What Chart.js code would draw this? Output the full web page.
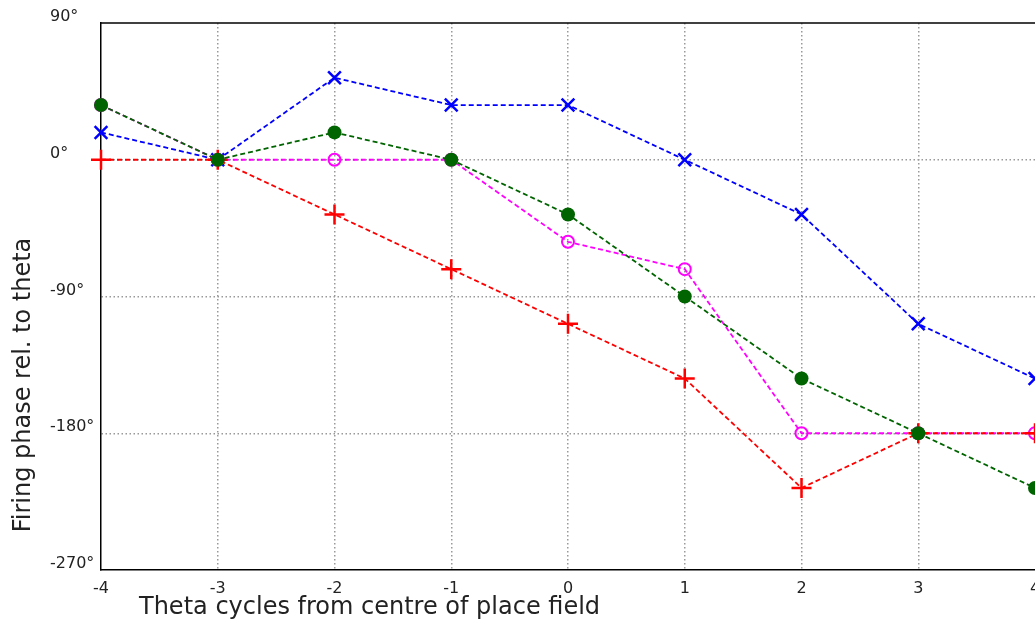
<!DOCTYPE html>
<html>
<head>
    <title>Firing phase vs theta cycles</title>
    <script src="https://cdn.jsdelivr.net/npm/chart.js"></script>
    <style>
        body { margin: 0; background: #fff; }
        .wrap { width: 1035px; height: 624px; position: relative; }
    </style>
</head>
<body>
    <div class="wrap"><canvas id="phase"></canvas></div>
    <script>
        // data (degrees)
        const cycles = [-4, -3, -2, -1, 0, 1, 2, 3, 4];
        const blueX = [18, 0, 54, 36, 36, 0, -36, -108, -144];
        const greenDot = [36, 0, 18, 0, -36, -90, -144, -180, -216];
        const magentaRing = [36, 0, 0, 0, -54, -72, -180, -180, -180];
        const redPlus = [0, 0, -36, -72, -108, -144, -216, -180, -180];
        const yTicks = [90, 0, -90, -180, -270];

        const pts = vals => vals.map((v, i) => ({ x: cycles[i], y: v }));

        // frame on top edge + axis titles placed where the original has them
        const frame = {
            id: 'frame',
            afterDraw(chart) {
                const { ctx, chartArea: a } = chart;
                ctx.save();
                ctx.strokeStyle = '#000';
                ctx.lineWidth = 1.5;
                ctx.beginPath();
                ctx.moveTo(a.left, a.top);
                ctx.lineTo(a.right, a.top);
                ctx.stroke();
                ctx.fillStyle = '#222';
                ctx.font = '24px "DejaVu Sans"';
                ctx.textBaseline = 'middle';
                ctx.textAlign = 'left';
                ctx.fillText('Theta cycles from centre of place field', 139, 608);
                ctx.translate(24, 385);
                ctx.rotate(-Math.PI / 2);
                ctx.textAlign = 'center';
                ctx.fillText('Firing phase rel. to theta', 0, 0);
                ctx.restore();
            }
        };

        const dash = [5, 3];
        new Chart(document.getElementById('phase'), {
            type: 'scatter',
            data: {
                datasets: [{
                    data: pts(greenDot),
                    showLine: true,
                    borderColor: '#006400',
                    backgroundColor: '#006400',
                    borderDash: dash,
                    borderWidth: 1.8,
                    pointStyle: 'circle',
                    pointRadius: 7,
                    pointBorderWidth: 0,
                    clip: false
                }, {
                    data: pts(redPlus),
                    showLine: true,
                    borderColor: '#ff0000',
                    backgroundColor: '#ff0000',
                    borderDash: dash,
                    borderWidth: 1.8,
                    pointStyle: 'cross',
                    pointRadius: 10,
                    pointBorderWidth: 2.5,
                    clip: false
                }, {
                    data: pts(magentaRing),
                    showLine: true,
                    borderColor: '#ff00ff',
                    backgroundColor: 'rgba(0,0,0,0)',
                    borderDash: dash,
                    borderWidth: 1.8,
                    pointStyle: 'circle',
                    pointRadius: 6,
                    pointBorderWidth: 2,
                    clip: false
                }, {
                    data: pts(blueX),
                    showLine: true,
                    borderColor: '#0000ff',
                    backgroundColor: '#0000ff',
                    borderDash: dash,
                    borderWidth: 1.8,
                    pointStyle: 'crossRot',
                    pointRadius: 9,
                    pointBorderWidth: 2.5,
                    clip: false
                }]
            },
            options: {
                responsive: true,
                maintainAspectRatio: false,
                animation: false,
                layout: { autoPadding: false, padding: { top: 23, left: 50, right: -2, bottom: 0 } },
                plugins: {
                    legend: { display: false },
                    tooltip: { enabled: false }
                },
                scales: {
                    x: {
                        type: 'linear',
                        min: -4,
                        max: 4,
                        afterFit(s) { s.height = 54; s.paddingLeft = 0; s.paddingRight = 0; },
                        ticks: {
                            stepSize: 1,
                            padding: 9,
                            color: '#222',
                            font: { family: 'DejaVu Sans', size: 16 }
                        },
                        grid: {
                            drawTicks: false,
                            color: c => (c.tick && Math.abs(c.tick.value) < 4) ? '#999' : 'rgba(0,0,0,0)',
                            lineWidth: 1.5
                        },
                        border: { display: true, color: '#000', width: 1.5, dash: [1.5, 2.5] }
                    },
                    y: {
                        type: 'linear',
                        min: -270,
                        max: 90,
                        afterFit(s) { s.width = 51; s.paddingTop = 0; s.paddingBottom = 0; },
                        afterBuildTicks(s) { s.ticks = yTicks.map(v => ({ value: v })); },
                        ticks: {
                            crossAlign: 'far',
                            labelOffset: -6,
                            color: '#222',
                            font: { family: 'DejaVu Sans', size: 16 },
                            callback: v => v + '°'
                        },
                        grid: {
                            drawTicks: false,
                            color: c => (c.tick && c.tick.value > -270 && c.tick.value < 90) ? '#999' : 'rgba(0,0,0,0)',
                            lineWidth: 1.5
                        },
                        border: { display: true, color: '#000', width: 1.5, dash: [1.5, 2.5] }
                    }
                }
            },
            plugins: [frame]
        });
    </script>
</body>
</html>
